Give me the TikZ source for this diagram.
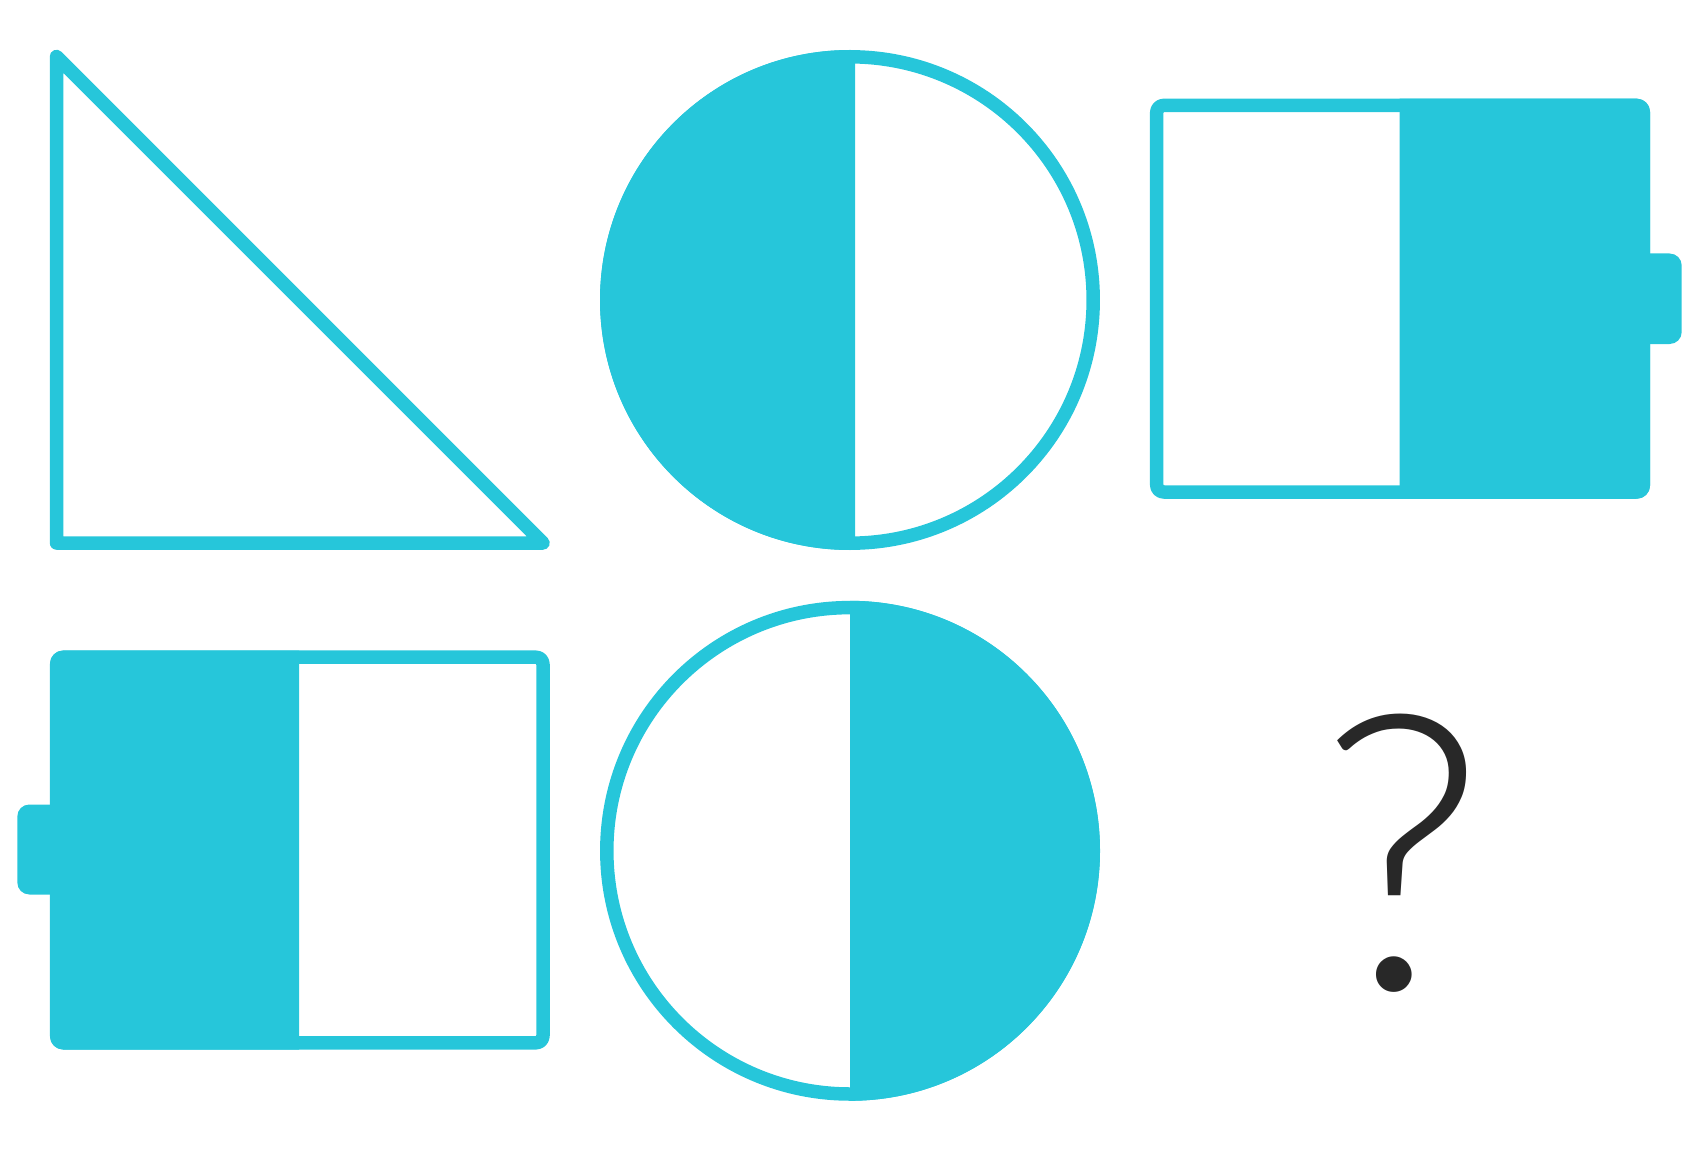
\documentclass[tikz,border=0pt]{standalone}
\usepackage{fontspec}
\IfFontExistsTF{Lato Light}{\newfontfamily\qfont{Lato Light}}{%
  \IfFontExistsTF{Open Sans Light}{\newfontfamily\qfont{Open Sans Light}}{%
    \newfontfamily\qfont{Lato}}}
\definecolor{cy}{HTML}{26C6DA}
\definecolor{qm}{HTML}{282828}
\begin{document}
\begin{tikzpicture}[x=1pt,y=-1pt,
  outl/.style={draw=cy,line width=13.5pt,line join=round},
  solid/.style={fill=cy}]
\useasboundingbox (0,0) rectangle (1700,1150);
% triangle
\draw[outl] (56.5,56.5) -- (56.5,543) -- (543,543) -- cycle;
% circle top (left half filled)
\begin{scope}
  \clip (590,40) rectangle (855,560);
  \fill[solid] (850,300) circle (250);
\end{scope}
\draw[outl] (850,300) circle (243.2);
% battery top right
\fill[solid,rounded corners=12pt] (1630,253.5) rectangle (1681.7,344);
\begin{scope}
  \clip (1399.7,90) rectangle (1660,510);
  \fill[solid,rounded corners=13pt] (1370,98.7) rectangle (1650,498.7);
\end{scope}
\draw[outl,rounded corners=7pt] (1156.7,105.4) rectangle (1643.3,492);
% battery bottom left
\fill[solid,rounded corners=12pt] (17.3,804.5) rectangle (70,894.5);
\begin{scope}
  \clip (40,640) rectangle (299.2,1060);
  \fill[solid,rounded corners=13pt] (50,650.5) rectangle (330,1049.5);
\end{scope}
\draw[outl,rounded corners=7pt] (56.7,657.2) rectangle (543,1042.8);
% circle bottom (right half filled)
\begin{scope}
  \clip (850,590) rectangle (1110,1110);
  \fill[solid] (850,850.8) circle (250);
\end{scope}
\draw[outl] (850,850.8) circle (243.2);
% question mark
\node[anchor=base,inner sep=0pt,text=qm,font=\qfont\fontsize{385}{390}\selectfont] (q) at (1403,989) {?};
\end{tikzpicture}
\end{document}
